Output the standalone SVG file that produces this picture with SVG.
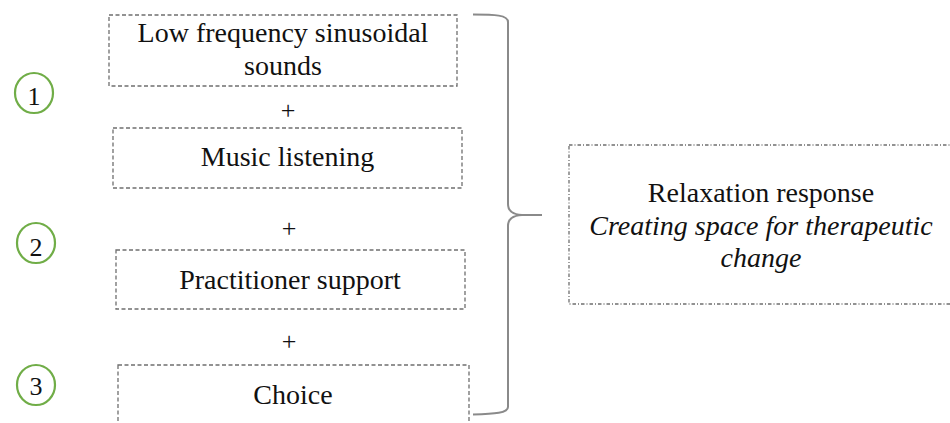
<svg xmlns="http://www.w3.org/2000/svg" width="950" height="423" viewBox="0 0 950 423">
<style>
.bg{fill:#ffffff}
.box{fill:none;stroke:#6f6f6f;stroke-width:1.3;stroke-dasharray:4 2.5}
.rbox{fill:none;stroke:#6f6f6f;stroke-width:1.3;stroke-dasharray:3.5 2 1 2}
.t{font-family:"Liberation Serif","Times New Roman",serif;font-size:28px;fill:#111;text-anchor:middle}
.it{font-style:italic}
.plus{font-family:"Liberation Serif","Times New Roman",serif;font-size:26px;fill:#111;text-anchor:middle}
.num{fill:none;stroke:#70ad47;stroke-width:2.2}
.numt{font-family:"Liberation Serif","Times New Roman",serif;font-size:26px;fill:#111;text-anchor:middle}
.brace{fill:none;stroke:#8a8a8a;stroke-width:2}
</style>
<rect class="bg" x="0" y="0" width="950" height="423"/>
<g id="step1"><ellipse class="num" cx="34" cy="93" rx="19" ry="20"/><text class="numt" x="34" y="105">1</text></g>
<g id="step2"><ellipse class="num" cx="36" cy="243" rx="19" ry="20"/><text class="numt" x="36" y="256">2</text></g>
<g id="step3"><ellipse class="num" cx="36" cy="385" rx="19" ry="20"/><text class="numt" x="36" y="395">3</text></g>
<g id="low-frequency"><rect class="box" x="109" y="15" width="348" height="71"/><text class="t" x="283" y="42">Low frequency sinusoidal</text><text class="t" x="283" y="75">sounds</text></g>
<g id="music"><rect class="box" x="113" y="128" width="349" height="60"/><text class="t" x="287.5" y="166">Music listening</text></g>
<g id="practitioner"><rect class="box" x="116" y="250" width="349" height="59"/><text class="t" x="290" y="289">Practitioner support</text></g>
<g id="choice"><rect class="box" x="118" y="365" width="351" height="80"/><text class="t" x="293" y="404">Choice</text></g>
<g id="plus-signs"><text class="plus" x="288" y="119">+</text><text class="plus" x="289" y="237">+</text><text class="plus" x="289" y="350">+</text></g>
<g id="connectors"><path class="brace" d="M473,14.5 C495,14.5 508,15 508,22 L508,204 C508,211 512,214.5 522,215 L542,215 M522,215 C512,215.5 508,219 508,226 L508,407 C508,413 495,414 473,414.5"/></g>
<g id="relaxation"><rect class="rbox" x="569" y="145" width="400" height="159"/><text class="t" x="761" y="202">Relaxation response</text><text class="t it" x="761" y="234.5">Creating space for therapeutic</text><text class="t it" x="761" y="267">change</text></g>
</svg>
